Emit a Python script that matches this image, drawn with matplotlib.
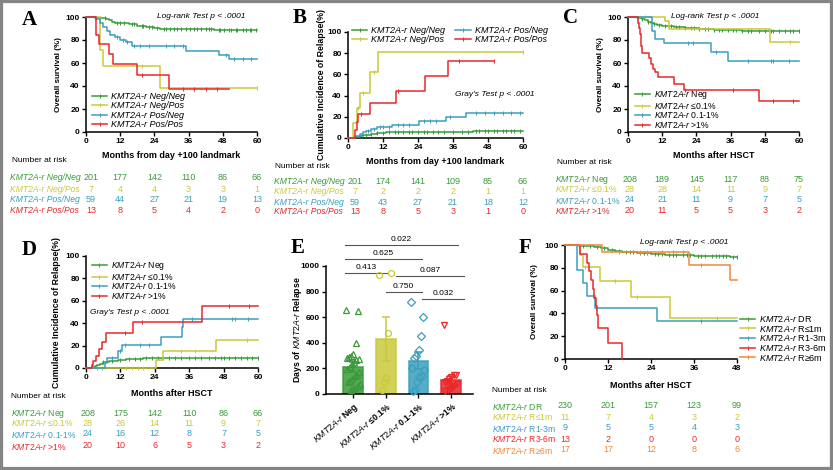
import numpy as np
import matplotlib
matplotlib.use("Agg")
import matplotlib.pyplot as plt
from matplotlib.lines import Line2D
from matplotlib.patches import Rectangle
from matplotlib.transforms import blended_transform_factory

plt.rcParams['font.family'] = ['Liberation Sans', 'DejaVu Sans']
plt.rcParams['mathtext.fontset'] = 'custom'
plt.rcParams['mathtext.rm'] = 'Liberation Sans'
plt.rcParams['mathtext.it'] = 'Liberation Sans:italic'
plt.rcParams['mathtext.bf'] = 'Liberation Sans:bold'

GREEN = '#3a9a3a'
YELLOW = '#c9c93a'
TEAL = '#3a9fbf'
RED = '#e8282a'
ORANGE = '#f0883a'

# ---------------- data ----------------
ab_labels = ['KMT2A-r Neg/Neg', 'KMT2A-r Neg/Pos', 'KMT2A-r Pos/Neg', 'KMT2A-r Pos/Pos']
cd_labels = [r'$\it{KMT2A}$-$\it{r}$ Neg', r'$\it{KMT2A}$-$\it{r}$ ≤0.1%',
             r'$\it{KMT2A}$-$\it{r}$ 0.1-1%', r'$\it{KMT2A}$-$\it{r}$ >1%']
f_labels = [r'$\it{KMT2A}$-$\it{r}$ DR', r'$\it{KMT2A}$-$\it{r}$ R≤1m', r'$\it{KMT2A}$-$\it{r}$ R1-3m',
            r'$\it{KMT2A}$-$\it{r}$ R3-6m', r'$\it{KMT2A}$-$\it{r}$ R≥6m']
ticks60 = [0, 12, 24, 36, 48, 60]
ticks48 = [0, 12, 24, 36, 48]

# A: overall survival, day +100 landmark
a_t_nn = [0, 3, 5, 7, 8, 9, 10, 15, 18, 21, 24, 26, 45, 60]
a_s_nn = [100, 99.5, 99, 98, 97, 96, 94.5, 93.5, 92.5, 91.5, 90.5, 89.8, 88.6, 88.6]
a_c_nn = [5, 6.5, 11, 12, 13.5, 16, 17, 19.5, 20, 22, 23, 25, 27.5, 28, 29.5, 31, 32, 33.5, 35,
          36.5, 38, 39, 40.5, 42, 43, 44, 46.5, 47, 48.5, 50, 51, 52.5, 53, 55, 56, 57.5, 58, 59.5]
a_t_np = [0, 4.8, 6, 26, 60]
a_s_np = [100, 71.4, 57.1, 38.1, 38.1]
a_c_np = [19.5, 60]
a_t_pn = [0, 3.5, 5, 6, 7.5, 8.5, 10, 12, 14, 16, 35, 46.5, 50, 60]
a_s_pn = [100, 98.3, 94.9, 91.5, 88.1, 84.7, 83.0, 79.7, 77.9, 75.0, 70.8, 67.2, 63.5, 63.5]
a_c_pn = [11, 13, 14.5, 17, 19, 22, 28, 31, 34, 49, 52, 55, 58]
a_t_pp = [0, 3.5, 4.5, 8, 9.5, 18, 29, 50]
a_s_pp = [100, 84.6, 76.9, 67.9, 59.4, 49.5, 37.1, 37.1]
a_c_pp = [19.6, 34, 38, 42, 46]
a_risk = [[201, 177, 142, 110, 86, 66], [7, 4, 4, 3, 3, 1],
          [59, 44, 27, 21, 19, 13], [13, 8, 5, 4, 2, 0]]

# B: cumulative incidence of relapse, day +100 landmark
b_t_nn = [0, 2.5, 4, 5, 6, 8, 10, 13, 20, 43, 60]
b_s_nn = [0, 0.5, 1.5, 2.5, 3.2, 4, 4.8, 5.3, 5.8, 6.4, 6.4]
b_c_nn = [6, 8, 10, 12, 14, 16, 17, 19, 21, 22, 24, 26, 27, 29, 31, 33, 36, 39, 41, 44, 45,
          47, 48, 50, 51, 53, 54, 56, 57, 59]
b_t_np = [0, 1.8, 3, 4.2, 7.6, 10.4, 60]
b_s_np = [0, 14.3, 28.6, 42.9, 61.9, 81, 81]
b_c_np = [3.5, 5, 9, 60]
b_t_pn = [0, 2.5, 4, 5, 6, 8, 10, 15, 24.5, 33.5, 40.5, 60]
b_s_pn = [0, 1.7, 3.4, 5.2, 7, 8.7, 10.5, 12.3, 16, 19.8, 23.7, 23.7]
b_c_pn = [7, 9, 11, 12, 14, 17, 19, 21, 26, 28, 30, 35, 44, 47, 50, 53, 56, 59]
b_t_pp = [0, 2.5, 3, 3.5, 7.6, 16.3, 26.5, 34.3, 50]
b_s_pp = [0, 7.7, 15.4, 23.1, 33.3, 44.4, 58.3, 72.2, 72.2]
b_c_pp = [4.5, 17, 38, 50]
b_risk = [[201, 174, 141, 109, 85, 66], [7, 2, 2, 2, 1, 1],
          [59, 43, 27, 21, 18, 12], [13, 8, 5, 3, 1, 0]]

# C: overall survival after HSCT by MRD level
c_t_neg = [0, 3, 4, 5, 6, 7, 8, 9, 10, 12, 16, 20, 25, 30, 40, 45, 60]
c_s_neg = [100, 99.5, 99, 98, 97, 96, 95, 94, 93, 92.5, 91, 90, 89.5, 89, 88, 87.5, 87.5]
c_c_neg = [5, 7, 9, 11, 13, 15, 17, 18, 20, 22, 23, 25, 27, 28, 30, 32, 33, 35, 37, 38, 40,
           42, 43, 46, 48, 50, 51, 53, 55, 57, 58, 60]
c_t_le = [0, 13, 14.5, 49.8, 60]
c_s_le = [100, 96.4, 89.3, 78.6, 78.6]
c_c_le = [6, 57]
c_t_mid = [0, 8.3, 9.3, 12.5, 29, 35, 60]
c_s_mid = [100, 87.5, 81.3, 77.1, 69.4, 61.7, 61.7]
c_c_mid = [21, 22.7, 31, 42, 50.3, 51, 56.5]
c_t_hi = [0, 3.5, 3.8, 4.1, 4.4, 4.7, 5, 7.5, 8.2, 8.8, 9.5, 10.5, 16, 19.5, 46, 60]
c_s_hi = [100, 95, 90, 85, 80, 75, 69, 64, 59, 55, 52, 47.5, 42, 36.5, 27, 27]
c_c_hi = [20, 37, 51, 58]
c_risk = [[208, 189, 145, 117, 88, 75], [28, 28, 14, 11, 9, 7],
          [24, 21, 11, 9, 7, 5], [20, 11, 5, 5, 3, 2]]

# D: cumulative incidence of relapse after HSCT by MRD level
d_t_neg = [0, 2, 3, 4, 5, 6, 8, 11, 14, 20, 34, 42, 60]
d_s_neg = [0, 1, 2, 3, 4, 5, 6, 7, 8, 8.5, 9, 9.3, 9.3]
d_c_neg = [6, 9, 12, 15, 17, 19, 21, 23, 25, 27, 29, 31, 33, 36, 38, 40, 43, 45, 47, 48, 50,
           52, 54, 56, 58, 60]
d_t_le = [0, 24.3, 27, 45.5, 60]
d_s_le = [0, 7.4, 15, 24.7, 24.7]
d_c_le = [4, 5.5, 14, 16, 18, 20, 33, 38, 56]
d_t_mid = [0, 6.5, 7.2, 11, 12.4, 26.2, 33.5, 34, 60]
d_s_mid = [0, 4.2, 8.9, 15.5, 20.8, 27.7, 37, 44, 44]
d_c_mid = [9, 12, 13.5, 19, 22, 37, 51, 52, 56.5]
d_t_hi = [0, 2.2, 2.6, 3.5, 4.4, 5.6, 7.1, 16.3, 40.5, 60]
d_s_hi = [0, 2.5, 5.9, 10.7, 17, 23.5, 31.2, 41, 55.8, 55.8]
d_c_hi = [13.5, 19.5, 50, 57]
d_risk = [[208, 175, 142, 110, 86, 66], [28, 26, 14, 11, 9, 7],
          [24, 16, 12, 8, 7, 5], [20, 10, 6, 5, 3, 2]]

# E: days of KMT2A-r relapse
e_groups = ['Neg', '≤0.1%', '0.1-1%', '>1%']
e_mean = [210, 432, 260, 107]
e_sem = [42, 172, 68, 32]
e_neg = [655, 645, 400, 315, 300, 290, 282, 272, 262, 250, 238, 212, 192, 172, 150, 138,
         120, 102, 90, 75, 60, 50, 40, 30]
e_le = [930, 945, 480, 125, 95, 30]
e_mid = [720, 605, 450, 345, 300, 280, 200, 190, 140, 130, 90, 30, 20]
e_hi = [540, 150, 145, 135, 120, 100, 90, 80, 62, 50, 40, 30, 20]
e_tests = [(-0.25, 3.2, 1164, '0.022'), (-0.25, 2.1, 1055, '0.625'), (-0.25, 1.05, 946, '0.413'),
           (1.3, 3.4, 922, '0.087'), (1.0, 2.1, 797, '0.750'), (2.1, 3.4, 742, '0.032')]

# F: overall survival after HSCT by relapse timing
f_t_dr = [0, 4, 6, 8, 10, 12, 14, 16, 20, 24, 28, 36, 46, 48]
f_s_dr = [100, 99.5, 99, 98, 97, 96, 95, 94, 93, 92, 91, 90.5, 89.5, 89.5]
f_c_dr = [5, 7, 9, 11, 13, 15, 17, 18, 19, 21, 22, 23, 25, 26, 27, 29, 30, 31, 33, 34, 35,
          37, 38, 39, 41, 42, 43, 44, 45, 47, 48]
f_t_le = [0, 4.3, 5, 9.8, 18.5, 29.4, 48]
f_s_le = [100, 90.9, 80.8, 68.2, 54.5, 36.4, 36.4]
f_c_le = [5.5, 14, 20, 42.5]
f_t_13 = [0, 3.3, 5.1, 6.1, 8.4, 25.8, 48]
f_s_13 = [100, 77.8, 66.7, 55.6, 44.4, 33.3, 33.3]
f_c_13 = [8.7, 38]
f_t_36 = [0, 4.2, 6.2, 6.8, 7.3, 7.7, 8.2, 8.7, 9, 9.3, 12.1, 15.8]
f_s_36 = [100, 92.3, 84.6, 76.9, 69.2, 61.5, 53.8, 46.2, 38.5, 27.5, 13.7, 0]
f_c_36 = []
f_t_6 = [0, 10.3, 34.7, 46, 48]
f_s_6 = [100, 94.1, 82.8, 68.9, 68.9]
f_c_6 = [15, 21, 23, 27, 30, 33, 38]
f_risk = [[230, 201, 157, 123, 99], [11, 7, 4, 3, 2], [9, 5, 5, 4, 3],
          [13, 2, 0, 0, 0], [17, 17, 12, 8, 6]]

# ---------------- helpers ----------------
W, H = 833, 470
fig = plt.figure(figsize=(W / 100, H / 100), dpi=100)


def fx(px):
    return px / W


def fy(py):
    return 1 - py / H


def make_ax(x0, y0, x1, y1):
    ax = fig.add_axes([fx(x0), fy(y1), (x1 - x0) / W, (y1 - y0) / H])
    ax.spines[['top', 'right']].set_visible(False)
    ax.spines[['left', 'bottom']].set_linewidth(1.1)
    ax.tick_params(length=3, width=1.0, labelsize=6, pad=1.5)
    ax.px_width = x1 - x0
    return ax


def set_ticks(ax, xt, yt):
    ax.set_xticks(xt, [str(v) for v in xt], fontweight='bold')
    ax.set_yticks(yt, [str(v) for v in yt], fontweight='bold')
    ax.set_xlim(xt[0], xt[-1])
    ax.set_ylim(yt[0], yt[-1])


def curve(ax, t, s, cens, color):
    ax.step(t, s, where='post', color=color, lw=1.1, clip_on=False, zorder=3)
    if len(cens):
        idx = np.searchsorted(t, cens, side='right') - 1
        ax.plot(cens, np.asarray(s)[idx], ls='none', marker='|', ms=3, mew=0.7,
                color=color, clip_on=False, zorder=3)


def legend(ax, labels, colors, x, y, ncol=1, italic=False, colsp=1.0, spacing=0.05, size=6.5):
    hs = [Line2D([0], [0], color=c, lw=1.1, marker='|', ms=3, mew=0.7) for c in colors]
    prop = {'size': size, 'style': 'italic' if italic else 'normal'}
    ax.legend(hs, labels, loc='upper left', bbox_to_anchor=(fx(x), fy(y)),
              bbox_transform=fig.transFigure, frameon=False, prop=prop, ncol=ncol,
              borderpad=0, borderaxespad=0, handlelength=1.7, handletextpad=0.45,
              labelspacing=spacing, columnspacing=colsp, numpoints=1)


def xlabel(ax, text, y):
    tr = blended_transform_factory(ax.transAxes, fig.transFigure)
    ax.text(0.5, fy(y), text, transform=tr, ha='center', va='center',
            fontsize=6.5, fontweight='bold')


def ylabel(ax, text, x, size=5.8):
    tr = blended_transform_factory(fig.transFigure, ax.transAxes)
    ax.text(fx(x), 0.5, text, transform=tr, ha='center', va='center', rotation=90,
            fontsize=size, fontweight='bold')


def risk_table(ax, ticks, labels, counts, colors, lab_x, rows_y, head, italic=False,
               first_dx=0, lab_size=6.2):
    fig.text(fx(head[0]), fy(head[1]), 'Number at risk', fontsize=6, ha='left', va='center')
    tr = blended_transform_factory(ax.transData, fig.transFigure)
    per_px = (ticks[-1] - ticks[0]) / ax.px_width
    for lab, row, col, y in zip(labels, counts, colors, rows_y):
        fig.text(fx(lab_x), fy(y), lab, color=col, fontsize=lab_size, ha='left', va='center',
                 style='italic' if italic else 'normal')
        for j, (xt, n) in enumerate(zip(ticks, row)):
            dx = first_dx * per_px if j == 0 else 0
            ax.text(xt + dx, fy(y), str(n), transform=tr, color=col, fontsize=6.5,
                    ha='center', va='center')


def letter(ch, x, y):
    fig.text(fx(x), fy(y), ch, fontsize=15, fontweight='bold', family='Liberation Serif',
             ha='center', va='center')


def note(text, x, y):
    fig.text(fx(x), fy(y), text, fontsize=6, style='italic', ha='left', va='center')


four = [GREEN, YELLOW, TEAL, RED]
five = [GREEN, YELLOW, TEAL, RED, ORANGE]

# ---------------- A ----------------
axA = make_ax(86, 17, 257, 132)
set_ticks(axA, ticks60, [0, 20, 40, 60, 80, 100])
for t, s, c, col in [(a_t_nn, a_s_nn, a_c_nn, GREEN), (a_t_np, a_s_np, a_c_np, YELLOW),
                     (a_t_pn, a_s_pn, a_c_pn, TEAL), (a_t_pp, a_s_pp, a_c_pp, RED)]:
    curve(axA, t, s, c, col)
legend(axA, ab_labels, four, 92, 92, italic=True)
xlabel(axA, 'Months from day +100 landmark', 156)
ylabel(axA, 'Overall survival (%)', 58)
note('Log-rank Test p < .0001', 157, 17)
risk_table(axA, ticks60, ab_labels, a_risk, four, 10, [178, 189, 200, 211], (12, 161),
           italic=True, first_dx=5)
letter('A', 29, 20)

# ---------------- B ----------------
axB = make_ax(348, 32, 523, 138)
set_ticks(axB, ticks60, [0, 20, 40, 60, 80, 100])
for t, s, c, col in [(b_t_nn, b_s_nn, b_c_nn, GREEN), (b_t_np, b_s_np, b_c_np, YELLOW),
                     (b_t_pn, b_s_pn, b_c_pn, TEAL), (b_t_pp, b_s_pp, b_c_pp, RED)]:
    curve(axB, t, s, c, col)
legend(axB, ab_labels, four, 352, 26, ncol=2, italic=True, colsp=1.1)
xlabel(axB, 'Months from day +100 landmark', 161)
ylabel(axB, 'Cumulative Incidence of Relapse(%)', 322, size=6.3)
note("Gray's Test p < .0001", 455, 95)
risk_table(axB, ticks60, ab_labels, b_risk, four, 274, [181, 192, 202, 212], (275, 166),
           italic=True, first_dx=7)
letter('B', 300, 18)

# ---------------- C ----------------
axC = make_ax(628, 17, 799, 132)
set_ticks(axC, ticks60, [0, 20, 40, 60, 80, 100])
for t, s, c, col in [(c_t_neg, c_s_neg, c_c_neg, GREEN), (c_t_le, c_s_le, c_c_le, YELLOW),
                     (c_t_mid, c_s_mid, c_c_mid, TEAL), (c_t_hi, c_s_hi, c_c_hi, RED)]:
    curve(axC, t, s, c, col)
legend(axC, cd_labels, four, 635, 88, spacing=-0.15, size=6.2)
xlabel(axC, 'Months after HSCT', 156)
ylabel(axC, 'Overall survival (%)', 600)
note('Log-rank Test p < .0001', 671, 17)
risk_table(axC, ticks60, cd_labels, c_risk, four, 555, [179, 189, 200, 211], (557, 162),
           first_dx=2)
letter('C', 570, 18)

# ---------------- D ----------------
axD = make_ax(86, 256, 258, 368)
set_ticks(axD, ticks60, [0, 20, 40, 60, 80, 100])
for t, s, c, col in [(d_t_neg, d_s_neg, d_c_neg, GREEN), (d_t_le, d_s_le, d_c_le, YELLOW),
                     (d_t_mid, d_s_mid, d_c_mid, TEAL), (d_t_hi, d_s_hi, d_c_hi, RED)]:
    curve(axD, t, s, c, col)
legend(axD, cd_labels, four, 92, 259, spacing=-0.15, size=6.2)
xlabel(axD, 'Months after HSCT', 393)
ylabel(axD, 'Cumulative Incidence of Relapse(%)', 57, size=6.3)
note("Gray's Test p < .0001", 90, 312)
risk_table(axD, ticks60, cd_labels, d_risk, four, 11, [413, 423, 434, 446], (11, 397),
           first_dx=2)
letter('D', 29, 250)

# ---------------- E ----------------
axE = make_ax(326, 266, 473, 394)
e_colors = [GREEN, YELLOW, TEAL, RED]
e_points = [e_neg, e_le, e_mid, e_hi]
e_markers = ['^', 'o', 'D', 'v']
xs = np.arange(len(e_groups))
axE.bar(xs, e_mean, width=0.6, color=e_colors, alpha=0.85, edgecolor=e_colors, lw=1.2, zorder=1)
for i, col in enumerate(e_colors):
    axE.errorbar(xs[i], e_mean[i], yerr=e_sem[i], fmt='none', ecolor=col, elinewidth=1.1,
                 capsize=3, capthick=1.1, zorder=2)
for i, (pts, col, mk) in enumerate(zip(e_points, e_colors, e_markers)):
    n = len(pts)
    off = ((np.arange(n) * 0.37) % 0.44) - 0.22
    axE.plot(i + off, pts, ls='none', marker=mk, ms=4.3 if mk != 'D' else 3.6, mfc='none',
             mec=col, mew=0.9, zorder=4, clip_on=False)
for x0, x1, yv, p in e_tests:
    axE.plot([x0, x1], [yv, yv], color='#555555', lw=0.8, clip_on=False)
    axE.annotate(p, ((x0 + x1) / 2, yv), xytext=(0, 1.5), textcoords='offset points',
                 ha='center', va='bottom', fontsize=6, annotation_clip=False)
axE.set_xlim(-0.83, 3.67)
axE.set_ylim(0, 1000)
axE.set_yticks([0, 200, 400, 600, 800, 1000], ['0', '200', '400', '600', '800', '1000'],
               fontweight='bold')
e_ticklabels = [r'$\it{KMT2A}$-$\it{r}$ ' + g for g in e_groups]
axE.set_xticks(xs, e_ticklabels, rotation=40, ha='right', rotation_mode='anchor',
               fontweight='bold', fontsize=6.3)
ylabel(axE, r'Days of $\it{KMT2A}$-$\it{r}$ Relapse', 297, size=6.3)
letter('E', 298, 248)

# ---------------- F ----------------
axF = make_ax(565, 245, 737, 359)
set_ticks(axF, ticks48, [0, 20, 40, 60, 80, 100])
for t, s, c, col in [(f_t_dr, f_s_dr, f_c_dr, GREEN), (f_t_le, f_s_le, f_c_le, YELLOW),
                     (f_t_13, f_s_13, f_c_13, TEAL), (f_t_36, f_s_36, f_c_36, RED),
                     (f_t_6, f_s_6, f_c_6, ORANGE)]:
    curve(axF, t, s, c, col)
legend(axF, f_labels, five, 740, 313, spacing=-0.15)
xlabel(axF, 'Months after HSCT', 385)
ylabel(axF, 'Overall survival (%)', 535)
note('Log-rank Test p < .0001', 640, 243)
risk_table(axF, ticks48, f_labels, f_risk, five, 492, [406, 417, 428, 439, 450], (492, 390))
letter('F', 525, 248)

fig.add_artist(Rectangle((0, 0), 1, 1, transform=fig.transFigure, fill=False,
                         edgecolor='#858585', lw=4.5))

fig.savefig('out.png', dpi=100)
